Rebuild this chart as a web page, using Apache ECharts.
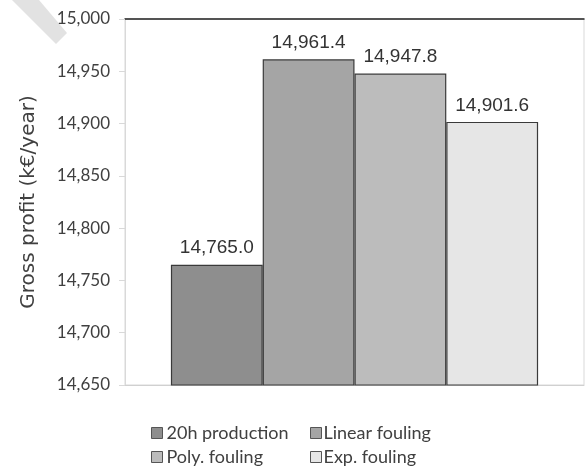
<!DOCTYPE html>
<html>
<head>
<meta charset="utf-8">
<script src="https://cdn.jsdelivr.net/npm/echarts@6/dist/echarts.min.js"></script>
<style>
  html, body { margin: 0; padding: 0; background: #ffffff; }
  #chart { width: 585px; height: 473px; }
</style>
</head>
<body>
<div id="chart"></div>
<script>
// Gross profit per fouling scenario
const categories = ['Gross profit'];
const scenarioNames = ['20h production', 'Linear fouling', 'Poly. fouling', 'Exp. fouling'];
const grossProfit = [14765.0, 14961.4, 14947.8, 14901.6];
const scenarioColors = ['#8e8e8e', '#a5a5a5', '#bcbcbc', '#e6e6e6'];
const yMin = 14650, yMax = 15000, yStep = 50;

const fmt = v => v.toLocaleString('en-US', { minimumFractionDigits: 0, maximumFractionDigits: 0 });
const fmt1 = v => v.toLocaleString('en-US', { minimumFractionDigits: 1, maximumFractionDigits: 1 });

const chart = echarts.init(document.getElementById('chart'), null, { renderer: 'canvas' });

const series = scenarioNames.map((name, i) => ({
  name: name,
  type: 'bar',
  data: [grossProfit[i]],
  barGap: '0%',
  barCategoryGap: '20%',
  itemStyle: { color: scenarioColors[i], borderColor: '#3a3a3a', borderWidth: 1.2 },
  label: {
    show: true,
    position: 'top',
    distance: 7,
    formatter: p => fmt1(p.value),
    fontFamily: '"Liberation Sans Narrow", "Liberation Sans", sans-serif',
    fontSize: 19,
    color: '#333333'
  }
}));

// legend laid out as a 2x2 block
const legendPos = [
  { left: 151, top: 424, gap: -1 },
  { left: 310, top: 424, gap: -3 },
  { left: 151, top: 448, gap: -1 },
  { left: 310, top: 448, gap: -3 }
];
const legends = scenarioNames.map((name, i) => ({
  data: [name],
  left: legendPos[i].left,
  top: legendPos[i].top,
  itemWidth: 11,
  itemHeight: 11,
  itemGap: 0,
  padding: 0,
  icon: 'rect',
  itemStyle: { borderColor: '#555555', borderWidth: 1 },
  textStyle: { fontFamily: 'Lato, sans-serif', fontSize: 18, color: '#404040', padding: [0, 0, 0, legendPos[i].gap] }
}));

chart.setOption({
  animation: false,
  backgroundColor: '#ffffff',
  graphic: [{
    type: 'polygon',
    z: -1,
    shape: { points: [[12, 0], [39, 0], [67, 33], [56, 44]] },
    style: { fill: '#e2e2e2' }
  }],
  grid: { left: 125, right: 1, top: 19, bottom: 88, show: true, borderColor: '#d9d9d9', borderWidth: 1 },
  legend: legends,
  xAxis: [{
    type: 'category',
    data: categories,
    axisLine: { lineStyle: { color: '#d0d0d0' } },
    axisTick: { show: false },
    axisLabel: { show: false }
  }, {
    type: 'category',
    position: 'top',
    data: categories,
    axisLine: { lineStyle: { color: '#222222', width: 1.5 } },
    axisTick: { show: false },
    axisLabel: { show: false }
  }],
  yAxis: {
    type: 'value',
    min: yMin,
    max: yMax,
    interval: yStep,
    name: 'Gross profit (k€/year)',
    nameLocation: 'middle',
    nameGap: 86,
    nameTextStyle: { fontFamily: '"DejaVu Sans", sans-serif', fontSize: 20, color: '#404040' },
    axisLine: { show: true, lineStyle: { color: '#d9d9d9' } },
    axisTick: { show: true, length: 6, lineStyle: { color: '#d9d9d9' } },
    splitLine: { show: false },
    axisLabel: {
      formatter: v => fmt(v),
      fontFamily: 'Lato, sans-serif',
      fontSize: 17,
      color: '#404040',
      margin: 15
    }
  },
  series: series
});
</script>
</body>
</html>
